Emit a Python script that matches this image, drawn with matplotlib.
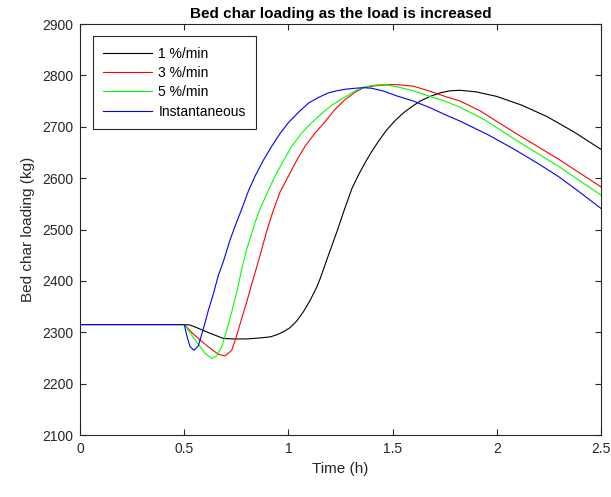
import matplotlib
matplotlib.use('Agg')
import matplotlib.pyplot as plt
from matplotlib.ticker import FuncFormatter

plt.rcParams['font.family'] = ['Liberation Sans', 'DejaVu Sans']

# values
t_black = [0, 0.5, 0.528, 0.56, 0.624, 0.688, 0.736, 0.8, 0.864, 0.912, 0.944, 0.976, 1.008, 1.04,
           1.072, 1.104, 1.136, 1.152, 1.192, 1.232, 1.268, 1.304, 1.336, 1.368, 1.4, 1.436, 1.472,
           1.512, 1.552, 1.592, 1.632, 1.68, 1.728, 1.776, 1.824, 1.9, 2.0, 2.12, 2.24, 2.37, 2.5]
y_black = [2315, 2315, 2314, 2309, 2298, 2288, 2287, 2287, 2289, 2291, 2295, 2301, 2309, 2322,
           2340, 2362, 2388, 2404, 2450, 2495, 2538, 2579, 2606, 2630, 2652, 2674, 2694,
           2712, 2727, 2739, 2750, 2759, 2766, 2770, 2771, 2768, 2759, 2742, 2720, 2690, 2656]

t_red = [0, 0.5, 0.54, 0.576, 0.624, 0.664, 0.696, 0.728, 0.752, 0.776, 0.8, 0.824, 0.845, 0.864,
         0.896, 0.928, 0.96, 1.0, 1.04, 1.08, 1.128, 1.176, 1.224, 1.272, 1.32, 1.36, 1.42, 1.488,
         1.52, 1.6, 1.68, 1.76, 1.824, 1.92, 2.08, 2.3, 2.5]
y_red = [2315, 2315, 2298, 2285, 2269, 2257, 2254, 2265, 2294, 2327, 2359, 2394, 2423, 2450,
         2497, 2538, 2573, 2604, 2635, 2662, 2688, 2710, 2734, 2753, 2767, 2776, 2780, 2782,
         2782, 2779, 2769, 2758, 2750, 2731, 2690, 2636, 2583]

t_green = [0, 0.5, 0.53, 0.56, 0.6, 0.632, 0.656, 0.68, 0.704, 0.728, 0.752, 0.776, 0.8, 0.84,
           0.864, 0.9, 0.936, 0.976, 1.016, 1.064, 1.112, 1.16, 1.208, 1.272, 1.32, 1.36, 1.41,
           1.456, 1.52, 1.6, 1.68, 1.75, 1.824, 1.94, 2.08, 2.3, 2.5]
y_green = [2315, 2315, 2298, 2281, 2259, 2249, 2254, 2272, 2304, 2340, 2378, 2423, 2462, 2514,
           2540, 2573, 2604, 2634, 2662, 2688, 2708, 2726, 2742, 2758, 2770, 2777, 2781,
           2782, 2778, 2770, 2759, 2750, 2738, 2714, 2677, 2622, 2567]

t_blue = [0, 0.5, 0.512, 0.528, 0.547, 0.568, 0.592, 0.616, 0.64, 0.664, 0.688, 0.72, 0.752,
          0.776, 0.808, 0.84, 0.88, 0.92, 0.96, 1.0, 1.048, 1.096, 1.144, 1.192, 1.232, 1.272,
          1.32, 1.36, 1.4, 1.46, 1.52, 1.6, 1.68, 1.76, 1.824, 1.96, 2.08, 2.2, 2.3, 2.4, 2.5]
y_blue = [2315, 2315, 2294, 2272, 2265, 2274, 2307, 2343, 2375, 2411, 2438, 2480, 2515,
          2540, 2575, 2604, 2635, 2662, 2687, 2708, 2728, 2746, 2757, 2766, 2770, 2773,
          2775, 2776, 2775, 2769, 2760, 2750, 2737, 2722, 2711, 2684, 2657, 2628, 2602, 2572, 2541]

series = [
    (t_black, y_black, 'k', '1 %/min'),
    (t_red, y_red, 'r', '3 %/min'),
    (t_green, y_green, (0, 1, 0), '5 %/min'),
    (t_blue, y_blue, 'b', 'Instantaneous'),
]

x_ticks = [0, 0.5, 1, 1.5, 2, 2.5]
y_ticks = list(range(2100, 3000, 100))

fig = plt.figure(figsize=(6.11, 4.97), dpi=100)
ax = fig.add_axes([0.131, 0.1247, 0.8526, 0.827])

for t, y, c, lab in series:
    ax.plot(t, y, color=c, lw=0.8, label=lab)

ax.set_xlim(0, 2.5)
ax.set_ylim(2100, 2900)
ax.set_xticks(x_ticks)
ax.set_yticks(y_ticks)
ax.xaxis.set_major_formatter(FuncFormatter(lambda v, p: f'{v:g}'))

gray = '#262626'
for s in ax.spines.values():
    s.set_color(gray)
    s.set_linewidth(0.8)
ax.tick_params(direction='in', top=True, right=True, length=4, width=0.8,
               colors=gray, labelsize=10, labelcolor=gray, pad=5)

ax.set_xlabel('Time (h)', fontsize=11, color=gray, labelpad=4)
ax.set_ylabel('Bed char loading (kg)', fontsize=11, color=gray, labelpad=5)
ax.set_title('Bed char loading as the load is increased', fontsize=11,
             fontweight='bold', pad=4)

leg = ax.legend(loc='upper left', bbox_to_anchor=(0.025, 0.97), borderaxespad=0,
                fontsize=10, fancybox=False, framealpha=1, handlelength=3.5,
                handletextpad=0.45, labelspacing=0.38, borderpad=0.75)
leg.get_frame().set_edgecolor(gray)
leg.get_frame().set_linewidth(0.8)

plt.savefig('out.png', dpi=100)
plt.close()
